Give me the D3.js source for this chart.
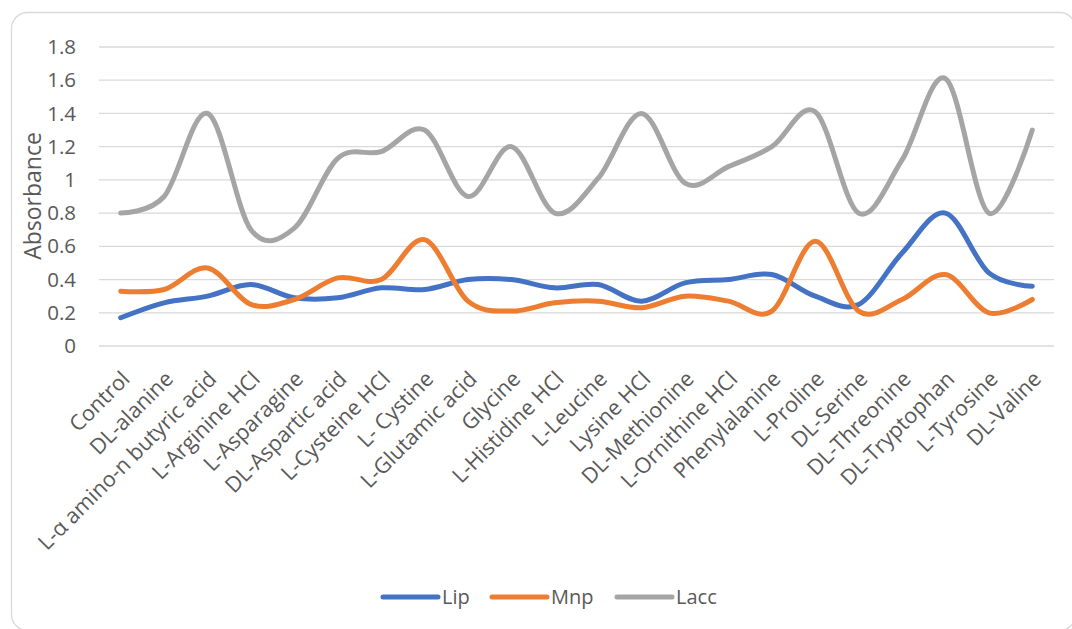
<!DOCTYPE html>
<html>
<head>
<meta charset="utf-8">
<script src="https://cdn.jsdelivr.net/npm/d3@7"></script>
<style>
  html, body { margin: 0; padding: 0; background: #fff; }
  svg { display: block; }
  text { font-family: "Open Sans", sans-serif; fill: #595959; }
</style>
</head>
<body>
<svg id="chart" width="1072" height="629"></svg>
<script>
// Amino acid treatments on the x axis
const categories = [
  "Control", "DL-alanine", "L-\u03b1 amino-n butyric acid", "L-Arginine HCl",
  "L-Asparagine", "DL-Aspartic acid", "L-Cysteine HCl", "L- Cystine",
  "L-Glutamic acid", "Glycine", "L-Histidine HCl", "L-Leucine", "Lysine HCl",
  "DL-Methionine", "L-Ornithine HCl", "Phenylalanine", "L-Proline",
  "DL-Serine", "DL-Threonine", "DL-Tryptophan", "L-Tyrosine", "DL-Valine"
];

// Enzyme absorbance readings
const lip  = [0.17, 0.26, 0.30, 0.37, 0.29, 0.29, 0.35, 0.34, 0.40, 0.40, 0.35,
              0.37, 0.27, 0.38, 0.40, 0.43, 0.30, 0.25, 0.56, 0.80, 0.44, 0.36];
const mnp  = [0.33, 0.34, 0.47, 0.25, 0.28, 0.41, 0.40, 0.64, 0.27, 0.21, 0.26,
              0.27, 0.23, 0.30, 0.27, 0.21, 0.63, 0.21, 0.28, 0.43, 0.20, 0.28];
const lacc = [0.80, 0.90, 1.40, 0.70, 0.71, 1.13, 1.17, 1.30, 0.90, 1.20, 0.80,
              1.01, 1.40, 0.98, 1.08, 1.20, 1.41, 0.80, 1.12, 1.61, 0.80, 1.30];

const seriesNames = ["Lip", "Mnp", "Lacc"];
const yTicks = [0, 0.2, 0.4, 0.6, 0.8, 1, 1.2, 1.4, 1.6, 1.8];

const series = [
  { name: seriesNames[0], values: lip,  color: "#4472C4" },
  { name: seriesNames[1], values: mnp,  color: "#ED7D31" },
  { name: seriesNames[2], values: lacc, color: "#A5A5A5" }
];

const svg = d3.select("#chart");

// Chart frame
svg.append("rect")
  .attr("x", 11.5).attr("y", 12.5)
  .attr("width", 1064).attr("height", 618)
  .attr("rx", 16).attr("ry", 16)
  .attr("fill", "#fff")
  .attr("stroke", "#d9d9d9").attr("stroke-width", 1.3);

const plot = { left: 99, right: 1054, top: 47, bottom: 346 };

const x = d3.scaleBand()
  .domain(categories)
  .range([plot.left, plot.right]);

const y = d3.scaleLinear()
  .domain([0, 1.8])
  .range([plot.bottom, plot.top]);

// Horizontal gridlines
svg.append("g")
  .selectAll("line")
  .data(yTicks)
  .join("line")
  .attr("x1", plot.left).attr("x2", plot.right)
  .attr("y1", d => y(d)).attr("y2", d => y(d))
  .attr("stroke", "#d9d9d9").attr("stroke-width", 1.3);

// Y axis labels
const yAxis = d3.axisLeft(y)
  .tickValues(yTicks)
  .tickFormat(d => d3.format("~g")(d))
  .tickSize(0)
  .tickPadding(0);

const yg = svg.append("g")
  .attr("transform", `translate(${plot.left - 23},0)`)
  .call(yAxis);
yg.select(".domain").remove();
yg.selectAll("text")
  .attr("font-size", 20.5)
  .attr("font-family", "Open Sans, sans-serif")
  .attr("fill", "#595959");

// Y axis title
svg.append("text")
  .attr("transform", `translate(41,196) rotate(-90)`)
  .attr("text-anchor", "middle")
  .attr("font-size", 23)
  .text("Absorbance");

// Category labels, rotated
const xAxis = d3.axisBottom(x).tickSize(0).tickPadding(0);
const xg = svg.append("g")
  .attr("transform", `translate(0,${plot.bottom})`)
  .call(xAxis);
xg.select(".domain").remove();
xg.selectAll("text")
  .attr("font-size", 21.5)
  .attr("font-family", "Open Sans, sans-serif")
  .attr("fill", "#595959")
  .attr("text-anchor", "end")
  .attr("dy", "0.35em")
  .attr("transform", "translate(5,29) rotate(-45)");

// Smoothed series lines
const line = d3.line()
  .x((d, i) => x(categories[i]) + x.bandwidth() / 2)
  .y(d => y(d))
  .curve(d3.curveCardinal.tension(0));

svg.append("g")
  .selectAll("path")
  .data(series)
  .join("path")
  .attr("d", d => line(d.values))
  .attr("fill", "none")
  .attr("stroke", d => d.color)
  .attr("stroke-width", 5)
  .attr("stroke-linecap", "round")
  .attr("stroke-linejoin", "round");

// Legend
const legendX = [383, 492, 617];
const lg = svg.append("g")
  .selectAll("g")
  .data(series)
  .join("g")
  .attr("transform", (d, i) => `translate(${legendX[i]},597)`);
lg.append("line")
  .attr("x1", 0).attr("x2", 55)
  .attr("stroke", d => d.color)
  .attr("stroke-width", 5)
  .attr("stroke-linecap", "round");
lg.append("text")
  .attr("x", 59)
  .attr("dy", "0.35em")
  .attr("font-size", 20)
  .text(d => d.name);
</script>
</body>
</html>
